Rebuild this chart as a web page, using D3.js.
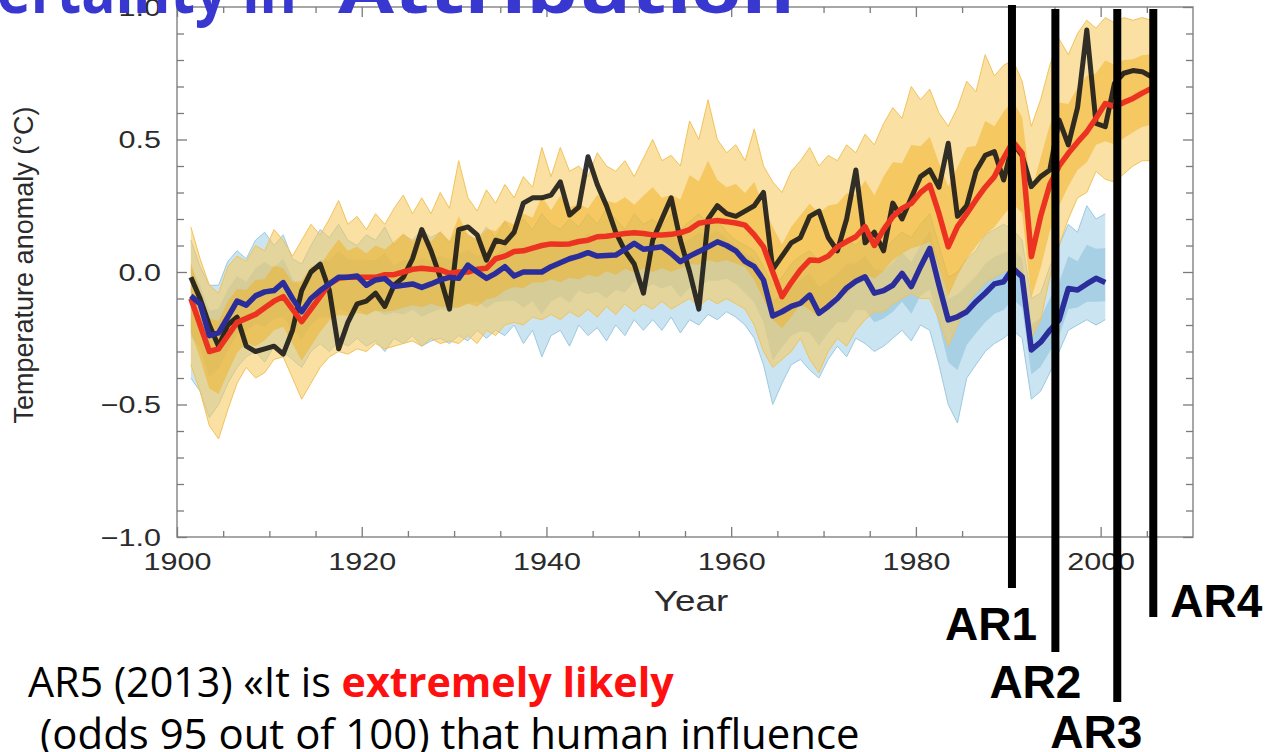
<!DOCTYPE html>
<html><head><meta charset="utf-8">
<script src="https://cdn.jsdelivr.net/npm/d3@7"></script>
<style>body{margin:0;background:#fff;overflow:hidden} svg{display:block}</style>
</head><body>
<svg id="c" width="1274" height="752"></svg>
<script>
// ---------- DATA ----------
const firstYear = 1901;
// observations (black), 1901-2005
const obs = [
-0.02,-0.10,-0.20,-0.28,-0.20,-0.17,-0.28,-0.30,-0.29,-0.28,
-0.31,-0.22,-0.07,0.00,0.03,-0.07,-0.29,-0.19,-0.12,-0.11,
-0.08,-0.13,-0.05,-0.02,0.05,0.16,0.08,-0.02,-0.14,0.16,
0.17,0.14,0.045,0.12,0.11,0.15,0.26,0.28,0.28,0.29,
0.34,0.215,0.245,0.435,0.33,0.25,0.15,0.08,0.03,-0.08,
0.12,0.20,0.28,0.12,0.00,-0.14,0.20,0.25,0.22,0.21,
0.23,0.25,0.30,0.01,0.06,0.11,0.13,0.21,0.23,0.13,
0.08,0.20,0.385,0.11,0.15,0.08,0.26,0.20,0.28,0.36,
0.385,0.32,0.486,0.21,0.25,0.38,0.44,0.454,0.347,0.486,
0.44,0.322,0.36,0.385,0.574,0.48,0.62,0.913,0.561,0.548,
0.712,0.75,0.76,0.756,0.737];
// all-forcing model mean (red), 1901-2005
const allMean = [
-0.10,-0.20,-0.30,-0.29,-0.24,-0.19,-0.175,-0.16,-0.135,-0.11,
-0.093,-0.14,-0.187,-0.14,-0.093,-0.045,-0.024,-0.02,-0.02,-0.02,
-0.02,-0.01,-0.01,0.00,0.01,0.014,0.01,0.008,-0.005,0.00,
0.00,0.01,0.014,0.05,0.06,0.077,0.08,0.09,0.10,0.106,
0.105,0.106,0.115,0.12,0.133,0.135,0.14,0.145,0.148,0.145,
0.14,0.14,0.142,0.148,0.16,0.184,0.19,0.194,0.19,0.185,
0.177,0.14,0.095,0.00,-0.093,-0.04,0.008,0.045,0.043,0.06,
0.095,0.115,0.133,0.171,0.10,0.16,0.209,0.24,0.259,0.30,
0.328,0.22,0.095,0.171,0.22,0.272,0.32,0.36,0.43,0.492,
0.448,0.058,0.21,0.33,0.40,0.448,0.49,0.529,0.58,0.636,
0.624,0.64,0.655,0.675,0.693];
// natural-only model mean (blue), 1901-2000
const natMean = [
-0.09,-0.12,-0.24,-0.23,-0.17,-0.11,-0.125,-0.09,-0.075,-0.07,
-0.04,-0.10,-0.15,-0.10,-0.07,-0.045,-0.02,-0.02,-0.015,-0.05,
-0.03,-0.025,-0.055,-0.05,-0.045,-0.058,-0.045,-0.03,-0.02,-0.024,
0.026,0.00,-0.024,-0.005,0.02,-0.015,0.00,0.00,0.00,0.02,
0.035,0.05,0.06,0.073,0.06,0.062,0.064,0.085,0.108,0.086,
0.09,0.095,0.07,0.039,0.06,0.077,0.095,0.114,0.10,0.08,
0.04,0.02,-0.03,-0.166,-0.15,-0.13,-0.118,-0.087,-0.156,-0.13,
-0.10,-0.06,-0.035,-0.018,-0.08,-0.07,-0.05,-0.005,-0.055,0.02,
0.089,-0.05,-0.181,-0.169,-0.15,-0.112,-0.08,-0.045,-0.037,0.014,
-0.018,-0.294,-0.265,-0.22,-0.181,-0.062,-0.068,-0.045,-0.024,-0.04];
// all-forcing ensemble spread (yellow), 1901-2005
const allHi = [
0.17,0.05,-0.05,-0.08,0.02,0.06,0.04,0.10,0.08,0.16,
0.12,0.06,0.12,0.18,0.14,0.20,0.27,0.18,0.21,0.16,
0.22,0.18,0.24,0.29,0.22,0.28,0.22,0.30,0.24,0.42,
0.28,0.23,0.31,0.26,0.33,0.28,0.36,0.32,0.47,0.36,
0.47,0.38,0.40,0.36,0.45,0.40,0.38,0.42,0.36,0.43,
0.50,0.42,0.44,0.40,0.57,0.50,0.65,0.50,0.45,0.48,
0.42,0.54,0.40,0.34,0.30,0.38,0.42,0.47,0.40,0.44,
0.42,0.48,0.45,0.52,0.48,0.56,0.62,0.58,0.70,0.65,
0.69,0.60,0.55,0.62,0.72,0.68,0.82,0.74,0.78,0.80,
0.72,0.55,0.65,0.78,0.88,0.82,0.90,0.95,0.92,0.96,
0.94,0.96,0.95,0.96,0.95];
const allLo = [
-0.35,-0.45,-0.58,-0.63,-0.52,-0.42,-0.36,-0.40,-0.38,-0.33,
-0.32,-0.40,-0.48,-0.42,-0.36,-0.32,-0.30,-0.31,-0.29,-0.30,
-0.27,-0.29,-0.28,-0.27,-0.26,-0.28,-0.25,-0.27,-0.26,-0.27,
-0.24,-0.27,-0.22,-0.24,-0.20,-0.19,-0.20,-0.17,-0.18,-0.16,
-0.18,-0.15,-0.17,-0.14,-0.17,-0.13,-0.16,-0.12,-0.15,-0.12,
-0.14,-0.11,-0.14,-0.12,-0.10,-0.13,-0.10,-0.12,-0.10,-0.12,
-0.14,-0.20,-0.30,-0.36,-0.33,-0.30,-0.25,-0.33,-0.38,-0.30,
-0.25,-0.28,-0.22,-0.18,-0.15,-0.15,-0.12,-0.10,-0.08,-0.10,
-0.10,-0.18,-0.28,-0.20,-0.12,-0.08,-0.04,-0.02,0.00,0.02,
0.00,-0.25,-0.18,-0.02,0.10,0.20,0.28,0.30,0.38,0.35,
0.34,0.37,0.40,0.42,0.42];
// natural-only ensemble spread (light blue), 1901-2000
const natHi = [
0.12,0.02,-0.05,-0.05,0.04,0.08,0.05,0.12,0.15,0.10,
0.14,0.05,0.03,0.10,0.16,0.13,0.18,0.12,0.10,0.14,
0.12,0.17,0.10,0.14,0.12,0.16,0.13,0.15,0.11,0.16,
0.14,0.12,0.17,0.13,0.19,0.14,0.20,0.16,0.22,0.18,
0.16,0.20,0.17,0.22,0.18,0.24,0.20,0.16,0.22,0.18,
0.20,0.17,0.22,0.16,0.19,0.22,0.18,0.20,0.15,0.12,
0.10,0.08,0.02,-0.05,-0.02,0.03,0.06,0.08,0.04,0.06,
0.09,0.12,0.10,0.14,0.10,0.08,0.12,0.15,0.13,0.18,
0.22,0.10,-0.02,0.00,0.05,0.08,0.14,0.16,0.18,0.16,
0.12,-0.10,-0.08,0.02,0.10,0.18,0.15,0.25,0.20,0.22];
const natLo = [
-0.40,-0.45,-0.55,-0.50,-0.42,-0.36,-0.32,-0.30,-0.34,-0.28,
-0.30,-0.33,-0.36,-0.30,-0.27,-0.30,-0.26,-0.28,-0.25,-0.28,
-0.26,-0.30,-0.25,-0.27,-0.24,-0.28,-0.26,-0.25,-0.27,-0.24,
-0.26,-0.22,-0.25,-0.22,-0.24,-0.20,-0.27,-0.22,-0.32,-0.24,
-0.22,-0.28,-0.20,-0.24,-0.21,-0.26,-0.20,-0.24,-0.18,-0.22,
-0.18,-0.22,-0.17,-0.23,-0.18,-0.20,-0.16,-0.18,-0.15,-0.17,
-0.20,-0.25,-0.35,-0.50,-0.42,-0.35,-0.33,-0.37,-0.40,-0.33,
-0.28,-0.32,-0.25,-0.27,-0.30,-0.28,-0.25,-0.22,-0.26,-0.20,
-0.22,-0.35,-0.50,-0.57,-0.40,-0.35,-0.30,-0.27,-0.25,-0.22,
-0.25,-0.48,-0.45,-0.38,-0.30,-0.22,-0.20,-0.18,-0.20,-0.18];

const xMajorTicks = [1900,1920,1940,1960,1980,2000];
const yMajorTicks = [-1.0,-0.5,0.0,0.5,1.0];
const arNames = ["AR1","AR2","AR3","AR4"];
const arYears = [1990.4,1995.1,2001.8,2005.7];
const arTop = [1.008,0.992,0.992,0.992];
const arBottom = [-1.192,-1.434,-1.623,-1.302];

// ---------- SCALES ----------
const svg = d3.select("#c");
const x = d3.scaleLinear().domain([1900,2010]).range([177,1193]);
const y = d3.scaleLinear().domain([-1,1]).range([537,7]);
const xm = i => x(firstYear + i + 0.5);   // annual means plotted mid-year

// ---------- ENSEMBLE BANDS ----------
const band = (lo, hi) => d3.area().x((d,i)=>xm(i)).y0((d,i)=>y(lo[i])).y1((d,i)=>y(hi[i]))(lo);
const line = arr => d3.line().x((d,i)=>xm(i)).y(d=>y(d))(arr);

const gB = svg.append("g");
gB.append("path").attr("d", band(natLo, natHi)).attr("fill","#a9d2e8").attr("opacity",0.6);
const natLo2 = natLo.map((v,i)=>(v+natMean[i])/2), natHi2 = natHi.map((v,i)=>(v+natMean[i])/2);
gB.append("path").attr("d", band(natLo2, natHi2)).attr("fill","#86bcd8").attr("opacity",0.5);
[natLo, natHi].forEach(a=>gB.append("path").attr("d", line(a)).attr("fill","none").attr("stroke","#9cc9e0").attr("stroke-width",1));

const gY = svg.append("g");
gY.append("path").attr("d", band(allLo, allHi)).attr("fill","#f6ca60").attr("opacity",0.58);
const allLo2 = allLo.map((v,i)=>(v+allMean[i])/2), allHi2 = allHi.map((v,i)=>(v+allMean[i])/2);
gY.append("path").attr("d", band(allLo2, allHi2)).attr("fill","#f0b020").attr("opacity",0.5);
[allLo, allHi].forEach(a=>gY.append("path").attr("d", line(a)).attr("fill","none").attr("stroke","#f2c35a").attr("stroke-width",1));

// ---------- MAIN LINES ----------
svg.append("path").attr("d", line(obs)).attr("fill","none").attr("stroke","#141414")
  .attr("stroke-width",5).attr("stroke-linejoin","round").attr("opacity",0.88);
svg.append("path").attr("d", line(allMean)).attr("fill","none").attr("stroke","#ec3321")
  .attr("stroke-width",5.5).attr("stroke-linejoin","round");
svg.append("path").attr("d", line(natMean)).attr("fill","none").attr("stroke","#2a2d9a")
  .attr("stroke-width",5.5).attr("stroke-linejoin","round");

// ---------- AXES ----------
const tickColor = "#7b7b7b";
svg.append("rect").attr("x",x(1900)).attr("y",y(1)).attr("width",x(2010)-x(1900)).attr("height",y(-1)-y(1))
  .attr("fill","none").attr("stroke","#8a8a8a").attr("stroke-width",1.5);

const xMinor = d3.range(1905,2010,5).filter(v=>!xMajorTicks.includes(v));
const yMinor = d3.range(-9,10,1).map(v=>v/10).filter(v=>Math.abs(v*2-Math.round(v*2))>1e-6);

function styleAxis(g){ g.select(".domain").remove(); g.selectAll("line").attr("stroke",tickColor).attr("stroke-width",1.3); }

svg.append("g").attr("transform",`translate(0,${y(-1)})`).call(d3.axisBottom(x).tickValues(xMinor).tickSize(-6).tickFormat("")).call(styleAxis);
const xb = svg.append("g").attr("transform",`translate(0,${y(-1)})`).call(d3.axisBottom(x).tickValues(xMajorTicks).tickSize(-10).tickFormat(d3.format("d"))).call(styleAxis);
svg.append("g").attr("transform",`translate(0,${y(1)})`).call(d3.axisTop(x).tickValues(xMinor).tickSize(-6).tickFormat("")).call(styleAxis);
svg.append("g").attr("transform",`translate(0,${y(1)})`).call(d3.axisTop(x).tickValues(xMajorTicks).tickSize(-10).tickFormat("")).call(styleAxis);

svg.append("g").attr("transform",`translate(${x(1900)},0)`).call(d3.axisLeft(y).tickValues(yMinor).tickSize(-7).tickFormat("")).call(styleAxis);
const yl = svg.append("g").attr("transform",`translate(${x(1900)},0)`).call(d3.axisLeft(y).tickValues(yMajorTicks).tickSize(-10).tickFormat(d3.format(".1f"))).call(styleAxis);
svg.append("g").attr("transform",`translate(${x(2010)},0)`).call(d3.axisRight(y).tickValues(yMinor).tickSize(-7).tickFormat("")).call(styleAxis);
svg.append("g").attr("transform",`translate(${x(2010)},0)`).call(d3.axisRight(y).tickValues(yMajorTicks).tickSize(-10).tickFormat("")).call(styleAxis);

const sx = 1.3;
xb.selectAll("text").attr("y",33.5).attr("dy",null).attr("transform",`scale(${sx},1)`)
  .attr("font-family","Liberation Sans, Arial, sans-serif").attr("font-size",23.5).attr("fill","#2b2b2b");
yl.selectAll("text").attr("x",-16/sx).attr("dy","0.36em").attr("transform",`scale(${sx},1)`)
  .attr("font-family","Liberation Sans, Arial, sans-serif").attr("font-size",23.5).attr("fill","#2b2b2b");

svg.append("text").attr("transform","translate(691,611) scale(1.27,1)").attr("text-anchor","middle")
  .attr("font-family","Liberation Sans, Arial, sans-serif").attr("font-size",29).attr("fill","#2b2b2b").text("Year");
svg.append("text").attr("transform","translate(33,265) rotate(-90)").attr("text-anchor","middle")
  .attr("font-family","Liberation Sans, Arial, sans-serif").attr("font-size",27).attr("fill","#2b2b2b").text("Temperature anomaly (°C)");

// ---------- AR MARKERS ----------
const arLabelDX = [-67,-66,-67,17], arLabelBase = [640,698,748,617];
arYears.forEach((yr,i)=>{
  svg.append("line").attr("x1",x(yr)).attr("x2",x(yr)).attr("y1",y(arTop[i])).attr("y2",y(arBottom[i]))
    .attr("stroke","#000").attr("stroke-width",8);
  svg.append("text").attr("x",x(yr)+arLabelDX[i]).attr("y",arLabelBase[i])
    .attr("font-family","Liberation Sans, Arial, sans-serif").attr("font-weight",700).attr("font-size",46)
    .attr("fill","#000").text(arNames[i]);
});

// ---------- TITLE ----------
function measure(str, size, weight){
  const t = svg.append("text").attr("font-family","Open Sans").attr("font-weight",weight).attr("font-size",size).text(str);
  const w = t.node().getComputedTextLength(); t.remove(); return w;
}
const titleColor = "#3838d0";
const s1 = 300 / measure("ertainty in", 62, 700);
svg.append("text").attr("transform",`translate(297,13) scale(${s1},1)`).attr("text-anchor","end")
  .attr("font-family","Open Sans").attr("font-weight",700).attr("font-size",62).attr("fill",titleColor)
  .text("Uncertainty in");
const s2 = 457 / measure("Attribution", 62, 700);
svg.append("text").attr("transform",`translate(338,13) scale(${s2},1)`)
  .attr("font-family","Open Sans").attr("font-weight",700).attr("font-size",62).attr("fill",titleColor)
  .text("Attribution");

// ---------- BOTTOM TEXT ----------
const t1 = svg.append("text").attr("font-family","Open Sans").attr("font-size",42).attr("fill","#000");
t1.append("tspan").text("AR5 (2013) «It is ");
t1.append("tspan").attr("fill","#ff1010").attr("font-weight",700).text("extremely likely");
const sb1 = 646 / t1.node().getComputedTextLength();
t1.attr("transform",`translate(28,697) scale(${sb1},1)`);
const t2 = svg.append("text").attr("font-family","Open Sans").attr("font-size",42).attr("fill","#000")
  .text("(odds 95 out of 100) that human influence");
const sb2 = 820 / t2.node().getComputedTextLength();
t2.attr("transform",`translate(40,749) scale(${sb2},1)`);
</script>
</body></html>
